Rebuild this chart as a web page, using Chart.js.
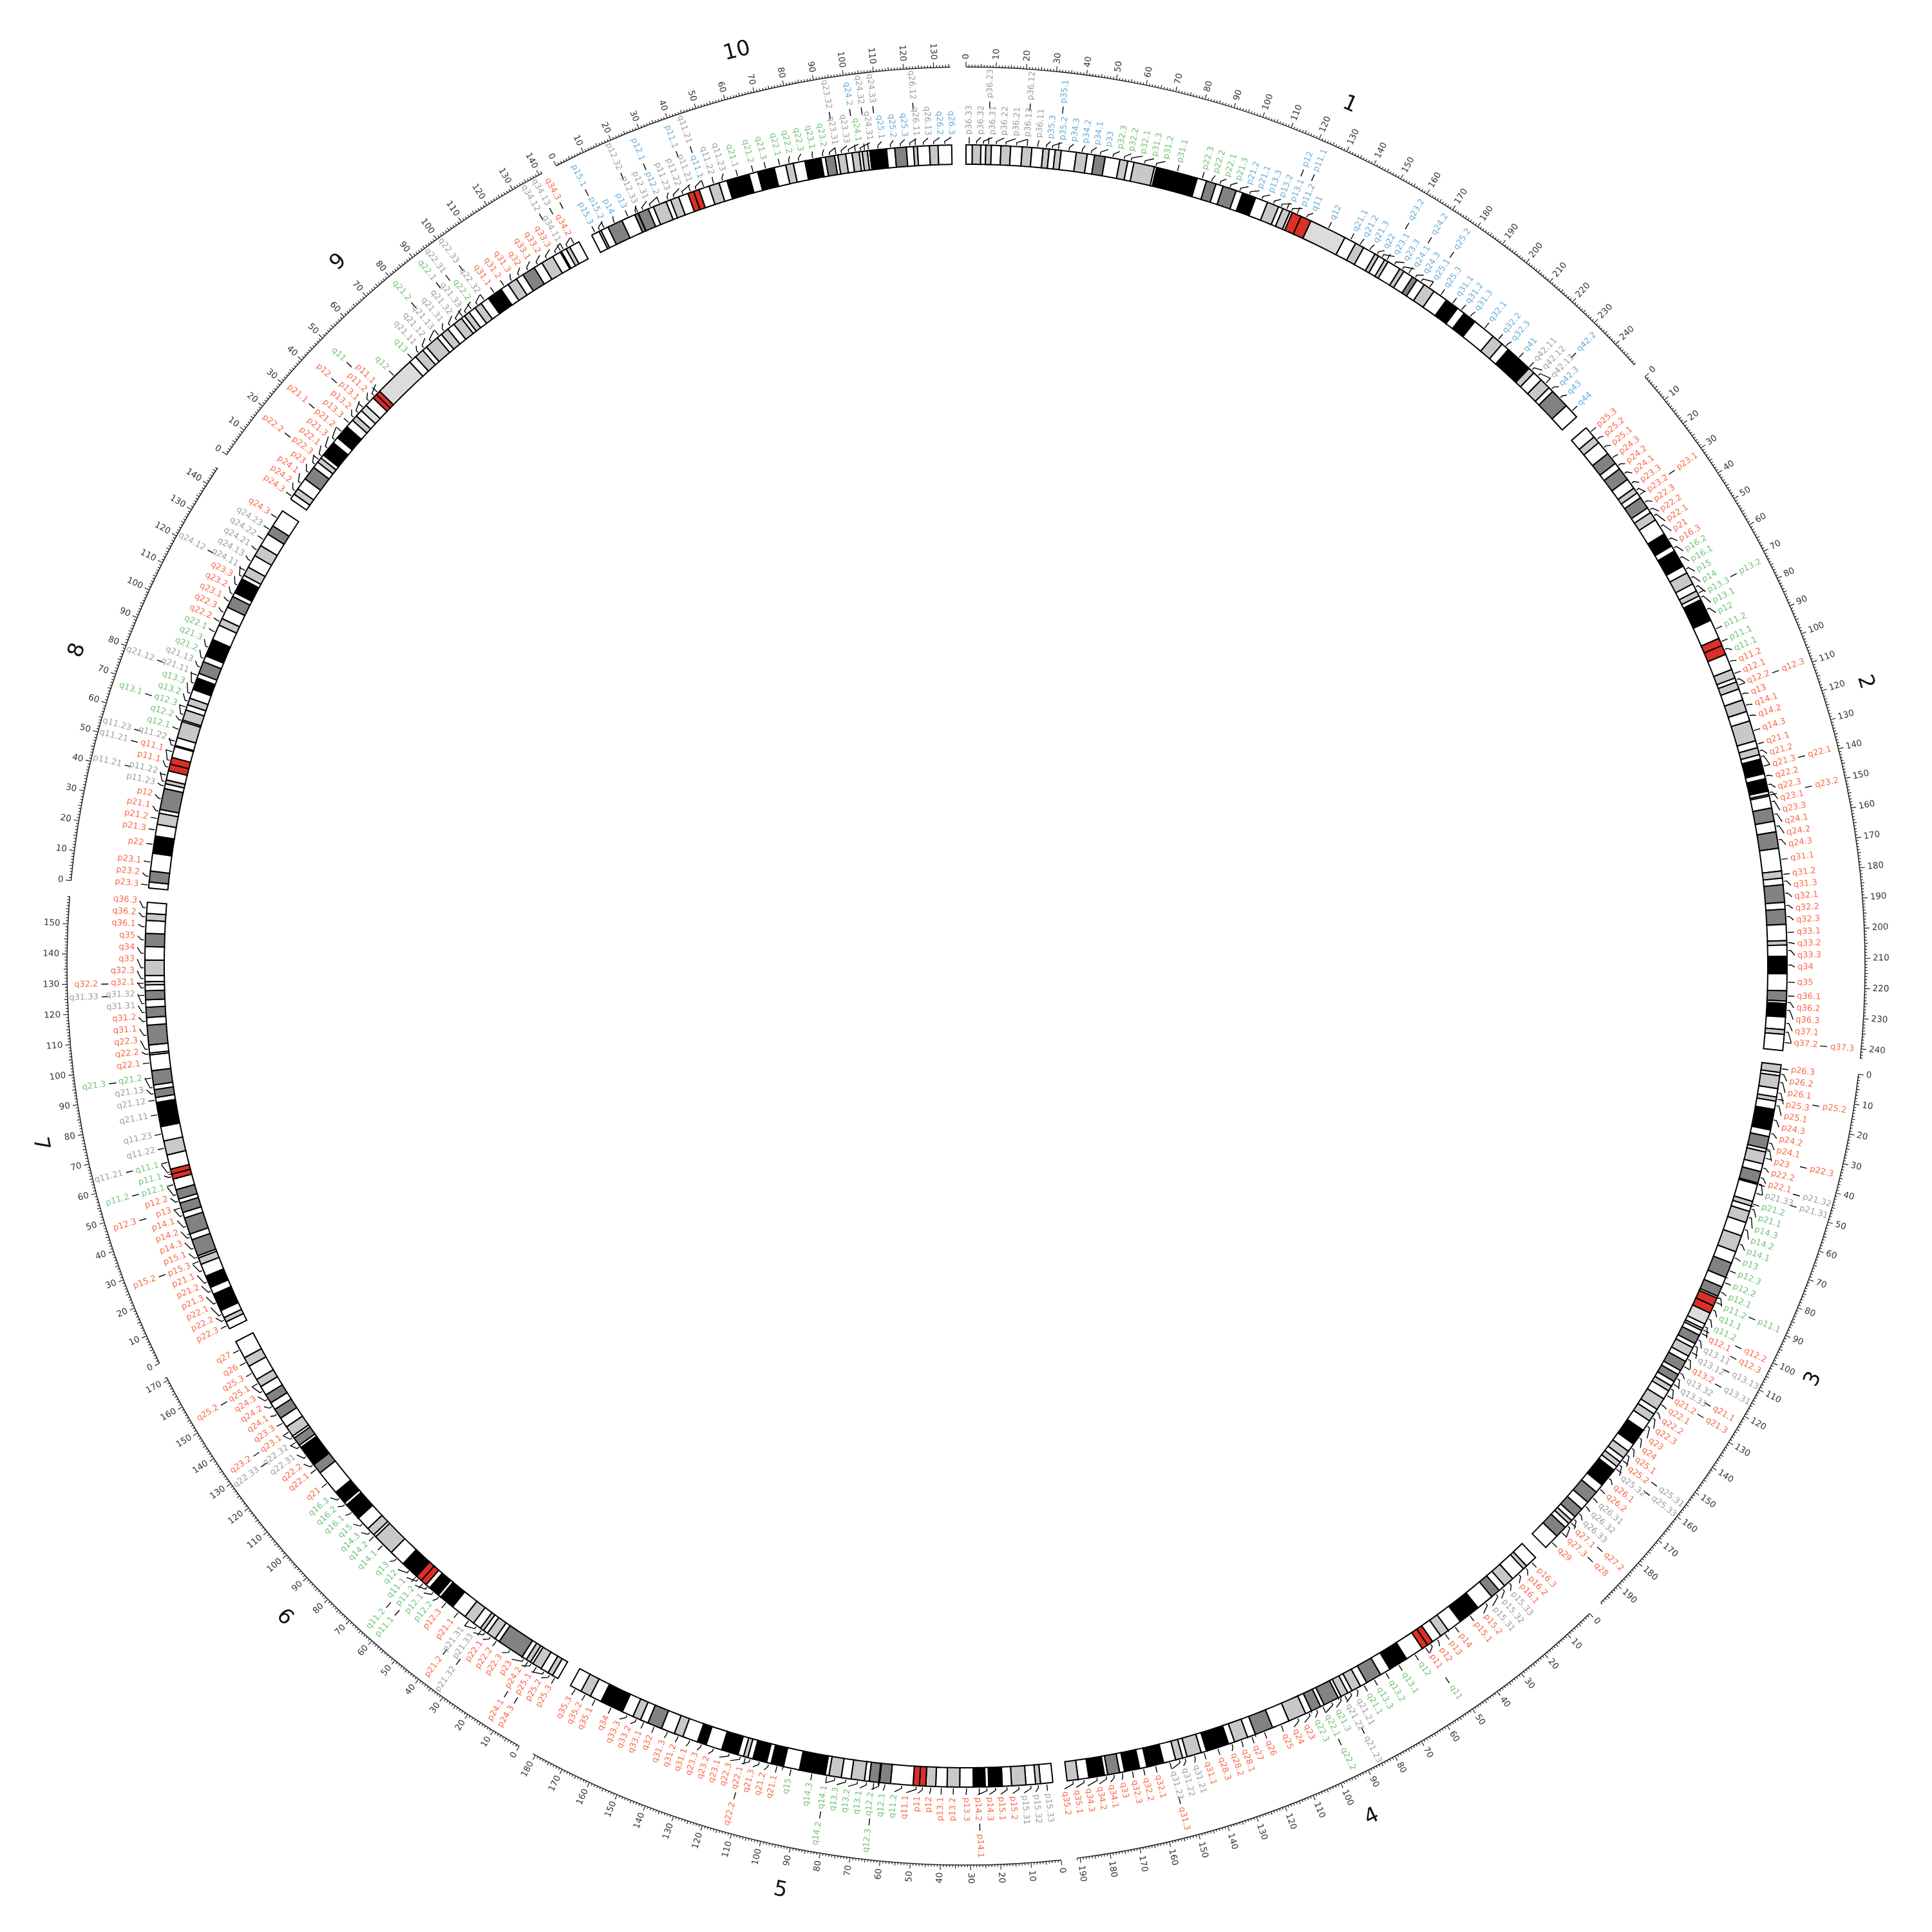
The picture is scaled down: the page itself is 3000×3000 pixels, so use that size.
<!DOCTYPE html>
<html><head><meta charset="utf-8"><title>Chromosome ideogram</title>
<script src="https://cdn.jsdelivr.net/npm/chart.js@4.4.1/dist/chart.umd.min.js"></script>
<style>html,body{margin:0;padding:0;background:#fff;}canvas{display:block;}</style>
</head><body>
<canvas id="chart" width="3000" height="3000"></canvas>
<script>
// ---------------- DATA (hg19 cytobands, Mb) ----------------
const chromNames = ["1","2","3","4","5","6","7","8","9","10"];

const chr1Bands = "p36.33 p36.32 p36.31 p36.23 p36.22 p36.21 p36.13 p36.12 p36.11 p35.3 p35.2 p35.1 p34.3 p34.2 p34.1 p33 p32.3 p32.2 p32.1 p31.3 p31.2 p31.1 p22.3 p22.2 p22.1 p21.3 p21.2 p21.1 p13.3 p13.2 p13.1 p12 p11.2 p11.1 q11 q12 q21.1 q21.2 q21.3 q22 q23.1 q23.2 q23.3 q24.1 q24.2 q24.3 q25.1 q25.2 q25.3 q31.1 q31.2 q31.3 q32.1 q32.2 q32.3 q41 q42.11 q42.12 q42.13 q42.2 q42.3 q43 q44".split(" ");
const chr1Ends = [2.3,5.4,7.2,9.2,12.7,16.2,20.4,23.9,28.0,30.2,32.4,34.6,40.1,44.1,46.8,50.7,56.1,59.0,61.3,68.9,69.7,84.9,88.4,92.0,94.7,99.7,102.2,107.2,111.8,116.1,117.8,120.6,121.5,125.0,128.9,142.6,147.0,150.3,155.0,156.5,159.1,160.5,165.5,167.2,170.9,172.9,176.0,180.3,185.8,190.8,193.8,198.7,207.2,211.5,214.5,224.1,224.6,227.0,230.7,234.7,236.6,243.7,249.25];
const chr1Stains = "n 25 n 25 n 50 n 25 n 25 n 25 n 25 n 75 n 50 n 50 n 100 n 75 n 75 n 100 n 50 n 50 n a a v n 50 n 50 n 50 n 50 n 75 n 50 n 100 n 100 n 25 n 100 n 25 n 50 n 75 n".split(" ");

const chr2Bands = "p25.3 p25.2 p25.1 p24.3 p24.2 p24.1 p23.3 p23.2 p23.1 p22.3 p22.2 p22.1 p21 p16.3 p16.2 p16.1 p15 p14 p13.3 p13.2 p13.1 p12 p11.2 p11.1 q11.1 q11.2 q12.1 q12.2 q12.3 q13 q14.1 q14.2 q14.3 q21.1 q21.2 q21.3 q22.1 q22.2 q22.3 q23.1 q23.2 q23.3 q24.1 q24.2 q24.3 q31.1 q31.2 q31.3 q32.1 q32.2 q32.3 q33.1 q33.2 q33.3 q34 q35 q36.1 q36.2 q36.3 q37.1 q37.2 q37.3".split(" ");
const chr2Ends = [4.4,7.1,12.2,16.7,19.2,24.0,27.9,30.0,32.1,36.6,38.6,41.8,47.8,52.9,55.0,61.3,64.1,68.6,71.5,73.5,75.0,83.3,90.5,93.3,96.8,102.7,106.0,107.5,110.2,114.4,118.8,122.4,129.9,132.5,135.1,136.8,142.2,144.1,148.7,149.9,150.5,154.9,159.8,163.7,169.7,178.0,180.6,183.0,189.4,191.9,197.4,203.3,204.9,209.0,215.3,221.5,225.2,226.1,231.0,235.6,237.3,243.2];
const chr2Stains = "n 50 n 75 n 75 n 25 n 75 n 50 n 100 n 100 n 50 n 50 n 100 n a a n 50 n 25 n 50 n 50 n 25 n 100 n 100 n 25 n 75 n 75 n 50 n 75 n 75 n 50 n 100 n 75 n 100 n 50 n".split(" ");

const chr3Bands = "p26.3 p26.2 p26.1 p25.3 p25.2 p25.1 p24.3 p24.2 p24.1 p23 p22.3 p22.2 p22.1 p21.33 p21.32 p21.31 p21.2 p21.1 p14.3 p14.2 p14.1 p13 p12.3 p12.2 p12.1 p11.2 p11.1 q11.1 q11.2 q12.1 q12.2 q12.3 q13.11 q13.12 q13.13 q13.2 q13.31 q13.32 q13.33 q21.1 q21.2 q21.3 q22.1 q22.2 q22.3 q23 q24 q25.1 q25.2 q25.31 q25.32 q25.33 q26.1 q26.2 q26.31 q26.32 q26.33 q27.1 q27.2 q27.3 q28 q29".split(" ");
const chr3Ends = [2.8,4.0,8.7,11.8,13.3,16.4,23.9,26.4,30.9,32.1,36.5,39.4,43.7,44.1,44.2,50.6,52.3,54.4,58.6,63.7,69.8,74.2,79.8,83.5,87.2,87.9,91.0,93.9,98.3,100.0,100.9,102.8,106.2,107.9,111.3,113.5,117.3,119.0,121.9,123.8,125.8,129.2,133.7,135.7,138.7,142.8,148.9,152.1,155.0,157.0,159.0,160.7,167.6,170.9,175.7,179.0,182.7,184.5,186.0,187.9,192.3,198.02];
const chr3Stains = "50 n 50 n 25 n 100 n 75 n 50 n 75 n 50 n 25 n 50 n 50 n 75 n 75 n a a v n 25 n 75 n 50 n 75 n 75 n 25 n 25 n 25 n 100 n 50 n 50 n 100 n 75 n 75 n 25 n 75 n".split(" ");

const chr4Bands = "p16.3 p16.2 p16.1 p15.33 p15.32 p15.31 p15.2 p15.1 p14 p13 p12 p11 q11 q12 q13.1 q13.2 q13.3 q21.1 q21.21 q21.22 q21.23 q21.3 q22.1 q22.2 q22.3 q23 q24 q25 q26 q27 q28.1 q28.2 q28.3 q31.1 q31.21 q31.22 q31.23 q31.3 q32.1 q32.2 q32.3 q33 q34.1 q34.2 q34.3 q35.1 q35.2".split(" ");
const chr4Ends = [4.5,6.0,11.3,15.2,17.8,21.3,27.7,35.8,41.2,44.6,48.2,50.4,52.7,59.5,66.6,70.5,76.3,78.9,82.4,84.1,86.9,88.0,93.7,95.1,98.8,101.1,107.7,114.1,120.8,123.8,128.8,131.1,139.5,141.5,146.8,148.5,151.1,155.6,161.8,164.5,170.1,171.9,176.3,177.5,183.2,187.1,191.15];
const chr4Stains = "n 25 n 50 n 75 n 100 n 50 n a a n 100 n 75 n 50 n 25 n 75 n 75 n 50 n 75 n 50 n 100 n 25 n 25 n 100 n 100 n 75 n 100 n 25".split(" ");

const chr5Bands = "p15.33 p15.32 p15.31 p15.2 p15.1 p14.3 p14.2 p14.1 p13.3 p13.2 p13.1 p12 p11 q11.1 q11.2 q12.1 q12.2 q12.3 q13.1 q13.2 q13.3 q14.1 q14.2 q14.3 q15 q21.1 q21.2 q21.3 q22.1 q22.2 q22.3 q23.1 q23.2 q23.3 q31.1 q31.2 q31.3 q32 q33.1 q33.2 q33.3 q34 q35.1 q35.2 q35.3".split(" ");
const chr5Ends = [4.5,6.3,9.8,15.0,18.4,23.3,24.6,28.9,33.8,38.4,42.5,46.1,48.4,50.7,58.9,62.9,63.2,66.7,68.4,73.3,76.9,81.4,82.8,92.3,98.2,102.8,104.5,109.6,111.5,113.1,115.2,121.4,127.3,130.6,136.2,139.5,144.5,149.8,152.7,155.7,159.9,168.5,172.8,176.6,180.92];
const chr5Stains = "n 25 n 50 n 100 n 100 n 25 n 50 a a n 75 n 75 n 50 n 50 n 100 n 100 n 100 n 50 n 100 n 100 n 25 n 75 n 50 n 100 n 25 n".split(" ");

const chr6Bands = "p25.3 p25.2 p25.1 p24.3 p24.2 p24.1 p23 p22.3 p22.2 p22.1 p21.33 p21.32 p21.31 p21.2 p21.1 p12.3 p12.2 p12.1 p11.2 p11.1 q11.1 q11.2 q12 q13 q14.1 q14.2 q14.3 q15 q16.1 q16.2 q16.3 q21 q22.1 q22.2 q22.31 q22.32 q22.33 q23.1 q23.2 q23.3 q24.1 q24.2 q24.3 q25.1 q25.2 q25.3 q26 q27".split(" ");
const chr6Ends = [2.3,4.2,7.1,10.6,11.6,13.4,15.2,25.2,27.0,30.4,32.1,33.5,36.6,40.5,46.2,51.8,52.9,57.0,58.7,61.0,63.3,63.4,70.0,75.9,83.9,84.9,88.0,93.1,99.5,100.6,105.5,114.6,118.3,118.5,126.1,127.1,130.3,131.2,135.2,139.0,142.8,145.6,149.0,152.5,155.5,161.0,164.5,171.12];
const chr6Stains = "n 25 n 50 n 25 n 75 n 50 n 25 n 25 n 100 n 100 n a a n 100 n 50 n 50 n 100 n 100 n 75 n 100 n 75 n 50 n 75 n 75 n 50 n 50 n".split(" ");

const chr7Bands = "p22.3 p22.2 p22.1 p21.3 p21.2 p21.1 p15.3 p15.2 p15.1 p14.3 p14.2 p14.1 p13 p12.3 p12.2 p12.1 p11.2 p11.1 q11.1 q11.21 q11.22 q11.23 q21.11 q21.12 q21.13 q21.2 q21.3 q22.1 q22.2 q22.3 q31.1 q31.2 q31.31 q31.32 q31.33 q32.1 q32.2 q32.3 q33 q34 q35 q36.1 q36.2 q36.3".split(" ");
const chr7Ends = [2.8,4.5,7.3,13.8,16.5,20.9,25.5,28.0,28.8,35.0,37.2,43.3,45.4,49.0,50.5,54.0,58.0,59.9,61.7,67.0,72.2,77.5,86.4,88.2,91.1,92.8,98.0,103.8,104.5,107.4,114.6,117.4,121.1,123.8,127.1,129.2,130.4,132.6,138.2,143.1,147.9,152.6,155.1,159.14];
const chr7Stains = "n 25 n 100 n 100 n 50 n 75 n 75 n 75 n 75 n a a n 50 n 100 n 75 n 75 n 50 n 75 n 75 n 75 n 25 n 50 n 75 n 25 n".split(" ");

const chr8Bands = "p23.3 p23.2 p23.1 p22 p21.3 p21.2 p21.1 p12 p11.23 p11.22 p11.21 p11.1 q11.1 q11.21 q11.22 q11.23 q12.1 q12.2 q12.3 q13.1 q13.2 q13.3 q21.11 q21.12 q21.13 q21.2 q21.3 q22.1 q22.2 q22.3 q23.1 q23.2 q23.3 q24.11 q24.12 q24.13 q24.21 q24.22 q24.23 q24.3".split(" ");
const chr8Ends = [2.2,6.2,12.7,19.0,23.3,27.4,28.8,36.5,38.3,39.7,43.1,45.6,48.1,52.2,52.6,55.5,61.6,62.2,66.0,68.0,70.5,73.9,78.3,80.1,84.6,86.9,93.3,99.0,101.6,106.2,110.5,112.1,117.7,119.2,122.5,127.3,131.5,136.4,139.9,146.36];
const chr8Stains = "n 75 n 100 n 50 n 75 n 25 n a a n 75 n 50 n 50 n 50 n 100 n 75 n 100 n 25 n 75 n 100 n 50 n 50 n 75 n".split(" ");

const chr9Bands = "p24.3 p24.2 p24.1 p23 p22.3 p22.2 p22.1 p21.3 p21.2 p21.1 p13.3 p13.2 p13.1 p12 p11.2 p11.1 q11 q12 q13 q21.11 q21.12 q21.13 q21.2 q21.31 q21.32 q21.33 q22.1 q22.2 q22.31 q22.32 q22.33 q31.1 q31.2 q31.3 q32 q33.1 q33.2 q33.3 q34.11 q34.12 q34.13 q34.2 q34.3".split(" ");
const chr9Ends = [2.2,4.6,9.0,14.2,16.6,18.5,19.9,25.6,28.0,33.2,36.3,38.4,41.0,43.6,47.3,49.0,50.7,65.9,68.7,72.2,74.0,79.2,81.1,84.1,86.9,90.4,91.8,93.9,96.6,99.3,102.6,108.2,111.3,114.9,117.7,122.5,125.8,130.3,133.5,134.0,135.9,137.4,141.21];
const chr9Stains = "n 25 n 75 n 25 n 100 n 100 n 25 n v n a a v n 25 n 50 n 50 n 50 n 25 n 25 n 100 n 25 n 75 n 25 n 25 n 25 n".split(" ");

const chr10Bands = "p15.3 p15.2 p15.1 p14 p13 p12.33 p12.32 p12.31 p12.2 p12.1 p11.23 p11.22 p11.21 p11.1 q11.1 q11.21 q11.22 q11.23 q21.1 q21.2 q21.3 q22.1 q22.2 q22.3 q23.1 q23.2 q23.31 q23.32 q23.33 q24.1 q24.2 q24.31 q24.32 q24.33 q25.1 q25.2 q25.3 q26.11 q26.12 q26.13 q26.2 q26.3".split(" ");
const chr10Ends = [3.0,3.8,6.6,12.2,17.3,18.6,18.7,22.6,24.6,29.6,31.3,34.4,38.0,40.2,42.3,46.1,49.9,52.9,61.2,64.5,70.6,74.9,77.7,82.0,87.9,89.5,92.9,94.1,97.0,99.3,101.9,103.0,104.9,105.8,111.9,114.9,119.1,121.7,123.1,127.5,130.6,135.53];
const chr10Stains = "n 25 n 75 n 75 n 75 n 50 n 25 n a a n 25 n 100 n 100 n 50 n 100 n 75 n 50 n 50 n 25 n 100 n 75 n 50 n 50 n".split(" ");

// label colour groups
const labelBaseGroup = ["blue","red","red","red","red","red","red","red","red","blue"];
const greenFrom = ["p32.3","p16.2","p21.2","q11","q11.2","p12.2","p12.1","q12.1","q11","q21.1"];
const greenTo   = ["p21.3","q11.1","q11.2","q22.3","q15","q16.3","q21.3","q22.1","q22.33","q24.1"];

// ---------------- STYLE ----------------
const stainColor = {"n":"#ffffff","25":"#c8c8c8","50":"#c8c8c8","75":"#828282","100":"#000000","a":"#d93027","v":"#dcdcdc"};
const groupColor = {blue:"#6baed6", red:"#fb6a4a", green:"#74c476", grey:"#a0a0a0"};
const FONT = '"DejaVu Sans", sans-serif';

// ---------------- BUILD ----------------
const bandSets = [
  [chr1Bands,chr1Ends,chr1Stains],[chr2Bands,chr2Ends,chr2Stains],[chr3Bands,chr3Ends,chr3Stains],
  [chr4Bands,chr4Ends,chr4Stains],[chr5Bands,chr5Ends,chr5Stains],[chr6Bands,chr6Ends,chr6Stains],
  [chr7Bands,chr7Ends,chr7Stains],[chr8Bands,chr8Ends,chr8Stains],[chr9Bands,chr9Ends,chr9Stains],
  [chr10Bands,chr10Ends,chr10Stains]
];
const totalLen = bandSets.reduce((s,b)=>s+b[1][b[1].length-1],0);
const gapValue = totalLen/350; // each gap = 1 degree
const segLabels=[], segValues=[], segColors=[], segBorders=[], segInfo=[];
bandSets.forEach((b,ci)=>{
  let prev=0;
  const gi0 = b[0].indexOf(greenFrom[ci]), gi1 = b[0].indexOf(greenTo[ci]);
  b[0].forEach((name,bi)=>{
    segLabels.push(name);
    segValues.push(+(b[1][bi]-prev).toFixed(3)); prev=b[1][bi];
    segColors.push(stainColor[b[2][bi]]);
    segBorders.push(2);
    let grp = labelBaseGroup[ci];
    if (bi>=gi0 && bi<=gi1) grp = "green";
    if (/\.\d\d$/.test(name)) grp = "grey";
    segInfo.push({chrom:ci, band:bi, name:name, color:groupColor[grp]});
  });
  segLabels.push(""); segValues.push(gapValue); segColors.push("rgba(0,0,0,0)"); segBorders.push(0); segInfo.push(null);
});

function norm(a){ const t=2*Math.PI; return ((a%t)+t)%t; }

const decorPlugin = {
  id:"ideogramDecor",
  afterDatasetsDraw(chart){
    const ctx = chart.ctx;
    const arcs = chart.getDatasetMeta(0).data;
    const cx = arcs[0].x, cy = arcs[0].y, R = arcs[0].outerRadius;
    const P = (r,a)=>[cx+r*Math.cos(a), cy+r*Math.sin(a)];
    function radialText(txt, r, a, font, color){
      const [x,y]=P(r,a); const n=norm(a);
      const flip = n>Math.PI/2 && n<3*Math.PI/2;
      ctx.save(); ctx.translate(x,y); ctx.rotate(flip? a+Math.PI : a);
      ctx.font=font; ctx.fillStyle=color; ctx.textAlign=flip?"right":"left"; ctx.textBaseline="middle";
      ctx.fillText(txt,0,0); ctx.restore();
    }
    function seg(r1,a1,r2,a2){ const p=P(r1,a1), q=P(r2,a2); ctx.moveTo(p[0],p[1]); ctx.lineTo(q[0],q[1]); }

    // chromosome extents from the library's arcs
    const ext = chromNames.map(()=>({a0:null,a1:null,items:[]}));
    arcs.forEach((arc,i)=>{
      const inf=segInfo[i]; if(!inf) return;
      const e=ext[inf.chrom]; if(e.a0===null) e.a0=arc.startAngle; e.a1=arc.endAngle;
      e.items.push({name:inf.name,color:inf.color,target:(arc.startAngle+arc.endAngle)/2});
    });

    const rS = R+121;
    ctx.save(); ctx.strokeStyle="#222"; ctx.lineCap="butt";
    ext.forEach((e,ci)=>{
      const ends = bandSets[ci][1]; const len = ends[ends.length-1];
      const k=(e.a1-e.a0)/len;
      ctx.lineWidth=1.5; ctx.beginPath(); ctx.arc(cx,cy,rS,e.a0,e.a1); ctx.stroke();
      ctx.lineWidth=1.2; ctx.beginPath();
      for(let m=0;m<=len;m++){
        const a=e.a0+m*k; const L = m%10===0?8:(m%5===0?5:3.5);
        seg(rS,a,rS+L,a);
      }
      ctx.stroke();
      for(let m=0;m<=len;m+=10){
        radialText(String(m), rS+12, e.a0+m*k, "13.5px "+FONT, "#333");
      }
      // chromosome name
      const am=(e.a0+e.a1)/2; const [x,y]=P(R+189,am);
      let rot = am+Math.PI/2; const th = norm(rot);
      if (th>Math.PI/2 && th<3*Math.PI/2) rot -= Math.PI;
      ctx.save(); ctx.translate(x,y); ctx.rotate(rot);
      ctx.font="33px "+FONT; ctx.fillStyle="#111"; ctx.textAlign="center"; ctx.textBaseline="middle";
      ctx.fillText(chromNames[ci],0,0); ctx.restore();
    });

    // band labels: tier 1 (spread clockwise) / tier 2 (pushed outward)
    const d = 0.01406, T = 0.0130;
    ext.forEach(e=>{
      let prev=-Infinity, prev2=-Infinity;
      e.items.forEach(it=>{
        const cand=Math.max(it.target, prev+d);
        if(cand-it.target>T){ it.tier=2; it.pos=Math.max(it.target, prev2+d*0.96); prev2=it.pos; }
        else { it.tier=1; it.pos=cand; prev=cand; }
      });
      ctx.lineWidth=1.4; ctx.strokeStyle="#000"; ctx.beginPath();
      e.items.forEach(it=>{
        const p0=P(R+2,it.target), p1=P(R+6,it.target), p2=P(R+12,it.tier===1?it.pos:it.target);
        ctx.moveTo(p0[0],p0[1]); ctx.lineTo(p1[0],p1[1]); ctx.lineTo(p2[0],p2[1]);
        if(it.tier===2) seg(R+57,it.pos,R+68,it.pos);
      });
      ctx.stroke();
      e.items.forEach(it=>{
        radialText(it.name, it.tier===1?R+16:R+73, it.pos, "13px "+FONT, it.color);
      });
    });
    ctx.restore();
  }
};

new Chart(document.getElementById("chart"), {
  type:"doughnut",
  data:{ labels:segLabels, datasets:[{ data:segValues, backgroundColor:segColors, borderColor:"#000",
    borderWidth:segBorders, borderJoinStyle:"miter", borderAlign:"center", hoverOffset:0 }]},
  options:{
    responsive:false, devicePixelRatio:1, animation:false,
    radius:1275, cutout:(1245/1275*100).toFixed(4)+"%", rotation:0, circumference:360,
    layout:{padding:0},
    plugins:{legend:{display:false}, tooltip:{enabled:false}}
  },
  plugins:[decorPlugin]
});
</script>
</body></html>
